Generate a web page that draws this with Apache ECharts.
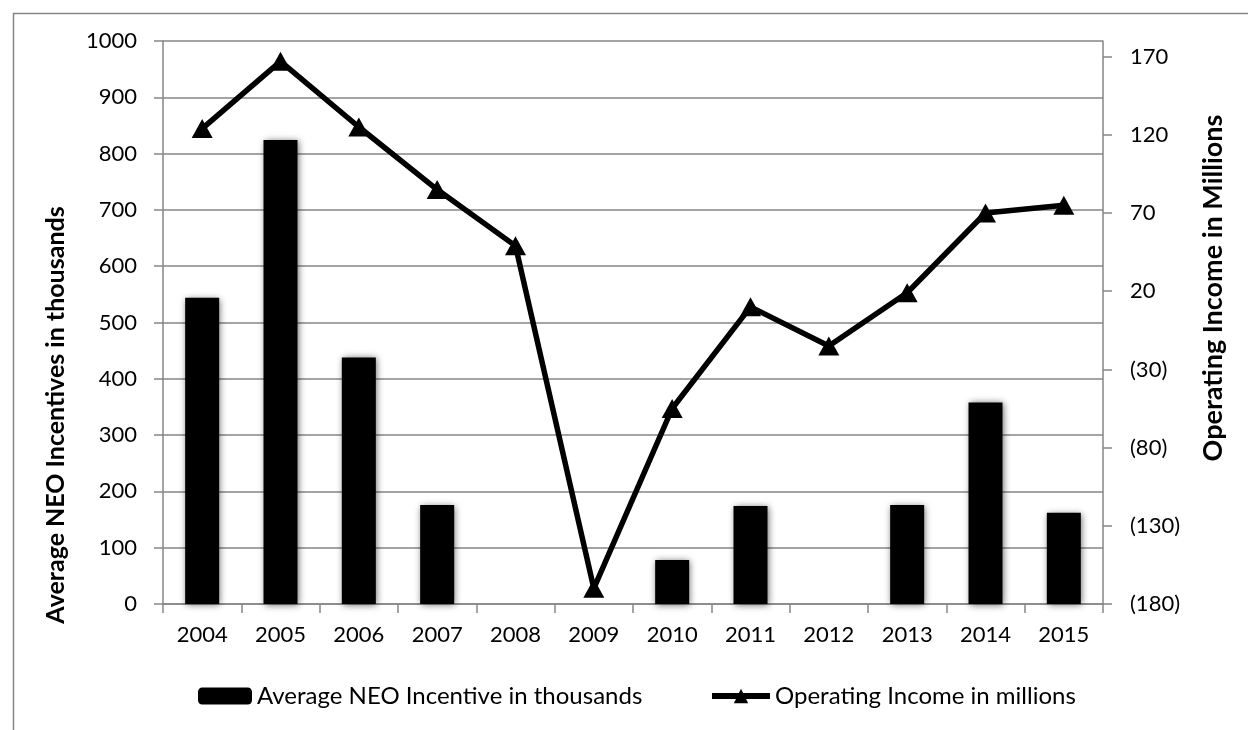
<!DOCTYPE html>
<html>
<head>
<meta charset="utf-8">
<script src="https://cdn.jsdelivr.net/npm/echarts@6/dist/echarts.min.js"></script>
<style>
html,body{margin:0;padding:0;background:#fff;}
#chart{width:1248px;height:730px;}
</style>
</head>
<body>
<div id="chart"></div>
<script>
const years = ['2004','2005','2006','2007','2008','2009','2010','2011','2012','2013','2014','2015'];
const neoIncentive = [544, 824, 438, 176, 0, 0, 78, 174, 0, 176, 358, 162];
const operatingIncome = [124, 167, 125, 85, 49, -170, -55, 10, -15, 19, 70, 75];
const rightTicks = [-180, -130, -80, -30, 20, 70, 120, 170];
const barName = 'Average NEO Incentive in thousands';
const lineName = 'Operating Income in millions';
const leftTitle = 'Average NEO Incentives in thousands';
const rightTitle = 'Operating Income in Millions';

const FONT = 'Lato';
const GREY = '#868686';
const chart = echarts.init(document.getElementById('chart'));
chart.setOption({
  animation: false,
  backgroundColor: '#fff',
  textStyle: {fontFamily: FONT, color: '#000'},
  graphic: [{
    type: 'rect', left: 11, top: 11, silent: true,
    shape: {width: 1400, height: 900},
    style: {fill: 'none', stroke: GREY, lineWidth: 1.5}
  }, {
    type: 'text', x: 56, y: 415, rotation: Math.PI / 2, silent: true,
    style: {text: leftTitle, fontFamily: FONT, fontSize: 25, fontWeight: 'bold', fill: '#000',
            align: 'center', verticalAlign: 'middle'}
  }, {
    type: 'text', x: 1213, y: 288, rotation: Math.PI / 2, silent: true,
    style: {text: rightTitle, fontFamily: FONT, fontSize: 27, fontWeight: 'bold', fill: '#000',
            align: 'center', verticalAlign: 'middle'}
  }],
  grid: {left: 163, right: 145, top: 41, bottom: 126},
  legend: [{
    left: 198, top: 684, padding: 0, itemWidth: 54, itemHeight: 17, itemGap: 5,
    data: [barName],
    textStyle: {fontFamily: FONT, fontSize: 24, color: '#000'}
  }, {
    left: 709, top: 684, padding: 0, itemWidth: 58, itemHeight: 18, itemGap: 3,
    data: [{name: lineName, lineStyle: {width: 6}}],
    textStyle: {fontFamily: FONT, fontSize: 24, color: '#000'}
  }],
  xAxis: {
    type: 'category', data: years,
    axisLine: {lineStyle: {color: GREY, width: 1.5}},
    axisTick: {show: true, length: 9, lineStyle: {color: GREY, width: 1.5}},
    axisLabel: {fontFamily: FONT, fontSize: 22, color: '#000', margin: 20}
  },
  yAxis: [{
    type: 'value', min: 0, max: 1000, interval: 100, position: 'left',
    axisLine: {show: true, lineStyle: {color: GREY, width: 1.5}},
    axisTick: {show: true, length: 9, lineStyle: {color: GREY, width: 1.5}},
    axisLabel: {fontFamily: FONT, fontSize: 22, color: '#000', margin: 26, formatter: v => String(v)},
    splitLine: {show: true, lineStyle: {color: GREY, width: 1.5}}
  }, {
    type: 'value', min: -180, max: 180, interval: 50, position: 'right',
    axisLine: {show: true, lineStyle: {color: GREY, width: 1.5}},
    axisTick: {show: true, length: 9, customValues: rightTicks, lineStyle: {color: GREY, width: 1.5}},
    axisLabel: {
      fontFamily: FONT, fontSize: 22, color: '#000', margin: 27, customValues: rightTicks,
      formatter: v => v < 0 ? '(' + (-v) + ')' : String(v)
    },
    splitLine: {show: false}
  }],
  series: [{
    name: barName, type: 'bar', yAxisIndex: 0, data: neoIncentive,
    barWidth: 34,
    itemStyle: {color: '#000', shadowBlur: 7, shadowColor: 'rgba(0,0,0,0.6)', shadowOffsetX: 1, shadowOffsetY: 1}
  }, {
    name: lineName, type: 'line', yAxisIndex: 1, data: operatingIncome,
    symbol: 'triangle', symbolSize: [21, 19], showSymbol: true,
    lineStyle: {color: '#000', width: 5.5},
    itemStyle: {color: '#000'},
    z: 5
  }]
});
</script>
</body>
</html>
